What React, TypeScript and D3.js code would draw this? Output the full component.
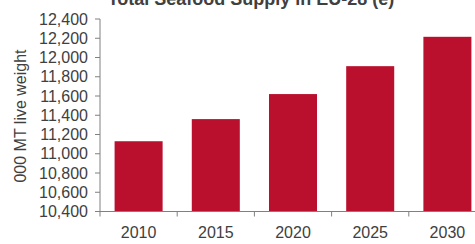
import React from "react";
import * as d3 from "d3";

const years = ["2010", "2015", "2020", "2025", "2030"];
const supply = [11130, 11360, 11620, 11910, 12215];
const yTicks = [10400, 10600, 10800, 11000, 11200, 11400, 11600, 11800, 12000, 12200, 12400];
const title = "Total Seafood Supply in EU-28 (e)";
const yLabel = "000 MT live weight";

const W = 475;
const H = 244;
const FONT = "Arial, 'Liberation Sans', Helvetica, sans-serif";

export default function App() {
  const left = 100;
  const right = 486;
  const top = 19;
  const bottom = 211.5;
  const x = d3.scaleBand<string>().domain(years).range([left, right]).paddingInner(0.378).paddingOuter(0.189);
  const y = d3.scaleLinear().domain([10400, 12400]).range([bottom, top]);
  const step = x.step();
  const fmt = d3.format(",");
  return (
    <svg width={W} height={H} style={{ position: "absolute", left: 0, top: 0, background: "#fff" }}>
      <text x={251} y={4.5} textAnchor="middle" fontFamily={FONT} fontWeight="bold" fontSize={18} fill="#404040">
        {title}
      </text>
      {years.map((yr, i) => (
        <rect key={yr} x={x(yr)} y={y(supply[i])} width={x.bandwidth()} height={bottom - y(supply[i])} fill="#BA102E" />
      ))}
      <line x1={left} x2={left} y1={top} y2={bottom} stroke="#808080" strokeWidth={1} />
      <line x1={left} x2={W} y1={bottom} y2={bottom} stroke="#808080" strokeWidth={1} />
      {yTicks.map((t) => (
        <g key={t}>
          <line x1={left - 5} x2={left} y1={y(t)} y2={y(t)} stroke="#808080" />
          <text x={88} y={y(t)} dy="0.35em" textAnchor="end" fontFamily={FONT} fontSize={16} fill="#404040">
            {fmt(t)}
          </text>
        </g>
      ))}
      {years.map((yr, i) => (
        <g key={"t" + yr}>
          <line x1={left + i * step} x2={left + i * step} y1={bottom} y2={bottom + 5} stroke="#808080" />
          <text x={(x(yr) as number) + x.bandwidth() / 2} y={238} textAnchor="middle" fontFamily={FONT} fontSize={16} fill="#404040">
            {yr}
          </text>
        </g>
      ))}
      <text transform={`translate(26,116) rotate(-90)`} textAnchor="middle" fontFamily={FONT} fontSize={16} fill="#404040">
        {yLabel}
      </text>
    </svg>
  );
}
